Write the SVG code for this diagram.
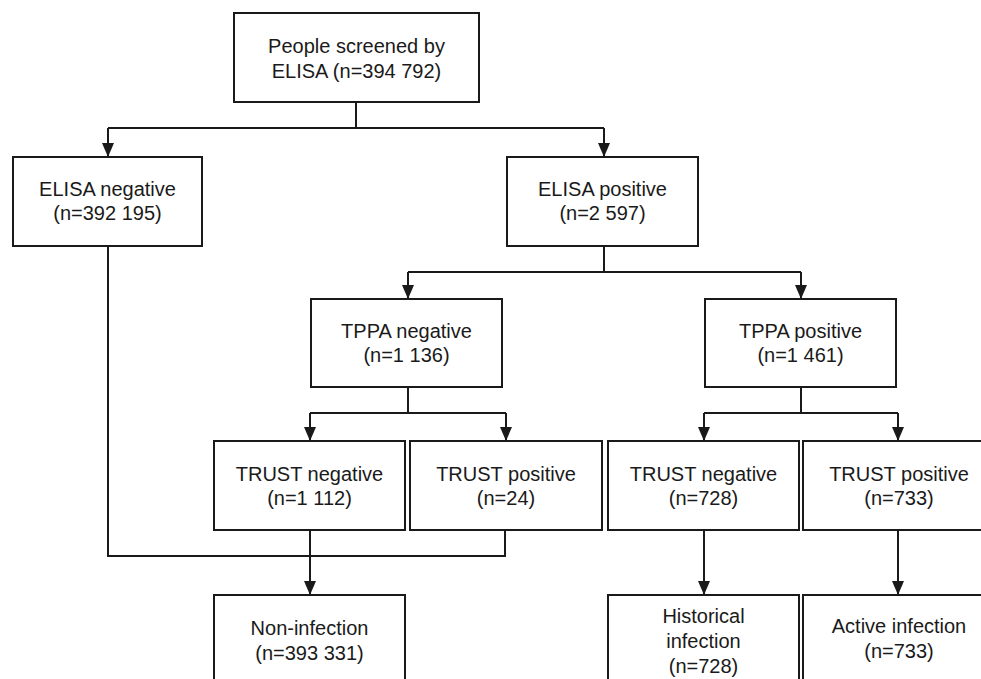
<svg xmlns="http://www.w3.org/2000/svg" width="981" height="679" viewBox="0 0 981 679">
<style>
.box{fill:#fff;stroke:#1a1a1a;stroke-width:2}
.ln{fill:none;stroke:#1a1a1a;stroke-width:2}
text{font-family:"Liberation Sans",Arial,sans-serif;font-size:20px;fill:#1a1a1a;text-anchor:middle}
</style>
<defs>
<marker id="ah" markerUnits="userSpaceOnUse" markerWidth="14" markerHeight="12" refX="13" refY="6" orient="auto" viewBox="0 0 14 12">
<path d="M0,0 L14,6 L0,12 z" fill="#1a1a1a"/>
</marker>
</defs>
<rect width="981" height="679" fill="#fff"/>
<g id="connectors">
<path class="ln" d="M356,102 V128"/>
<path class="ln" d="M108,128 H604"/>
<path class="ln" d="M108,128 V156" marker-end="url(#ah)"/>
<path class="ln" d="M604,128 V156" marker-end="url(#ah)"/>
<path class="ln" d="M604,246 V272 M408,272 H801"/>
<path class="ln" d="M408,272 V298" marker-end="url(#ah)"/>
<path class="ln" d="M801,272 V298" marker-end="url(#ah)"/>
<path class="ln" d="M408,387 V413 M310,413 H506"/>
<path class="ln" d="M310,413 V440" marker-end="url(#ah)"/>
<path class="ln" d="M506,413 V440" marker-end="url(#ah)"/>
<path class="ln" d="M801,387 V413 M704,413 H898"/>
<path class="ln" d="M704,413 V440" marker-end="url(#ah)"/>
<path class="ln" d="M898,413 V440" marker-end="url(#ah)"/>
<path class="ln" d="M108,246 V556 H505 V530"/>
<path class="ln" d="M310,530 V594" marker-end="url(#ah)"/>
<path class="ln" d="M704,530 V594" marker-end="url(#ah)"/>
<path class="ln" d="M898,530 V594" marker-end="url(#ah)"/>
</g>
<g id="screened">
<rect class="box" x="234" y="13" width="245" height="89"/>
<text x="356.5" y="53">People screened by</text>
<text x="356.5" y="78">ELISA (n=394 792)</text>
</g>
<g id="elisa-neg">
<rect class="box" x="13" y="157" width="189" height="89"/>
<text x="107.5" y="196">ELISA negative</text>
<text x="107.5" y="220">(n=392 195)</text>
</g>
<g id="elisa-pos">
<rect class="box" x="507" y="157" width="191" height="89"/>
<text x="602.5" y="196">ELISA positive</text>
<text x="602.5" y="220">(n=2 597)</text>
</g>
<g id="tppa-neg">
<rect class="box" x="311" y="299" width="191" height="88"/>
<text x="406.5" y="338">TPPA negative</text>
<text x="406.5" y="362">(n=1 136)</text>
</g>
<g id="tppa-pos">
<rect class="box" x="705" y="299" width="191" height="88"/>
<text x="800.5" y="338">TPPA positive</text>
<text x="800.5" y="362">(n=1 461)</text>
</g>
<g id="trust-neg-1">
<rect class="box" x="214" y="441" width="191" height="89"/>
<text x="309.5" y="481">TRUST negative</text>
<text x="309.5" y="505">(n=1 112)</text>
</g>
<g id="trust-pos-1">
<rect class="box" x="410" y="441" width="192" height="89"/>
<text x="506" y="481">TRUST positive</text>
<text x="506" y="505">(n=24)</text>
</g>
<g id="trust-neg-2">
<rect class="box" x="608" y="441" width="191" height="89"/>
<text x="703.5" y="481">TRUST negative</text>
<text x="703.5" y="505">(n=728)</text>
</g>
<g id="trust-pos-2">
<rect class="box" x="803" y="441" width="192" height="89"/>
<text x="899" y="481">TRUST positive</text>
<text x="899" y="505">(n=733)</text>
</g>
<g id="non-infection">
<rect class="box" x="214" y="595" width="191" height="100"/>
<text x="309.5" y="635">Non-infection</text>
<text x="309.5" y="660">(n=393 331)</text>
</g>
<g id="historical">
<rect class="box" x="608" y="595" width="191" height="100"/>
<text x="703.5" y="623">Historical</text>
<text x="703.5" y="648">infection</text>
<text x="703.5" y="673">(n=728)</text>
</g>
<g id="active">
<rect class="box" x="803" y="595" width="192" height="100"/>
<text x="899" y="633">Active infection</text>
<text x="899" y="658">(n=733)</text>
</g>
</svg>
